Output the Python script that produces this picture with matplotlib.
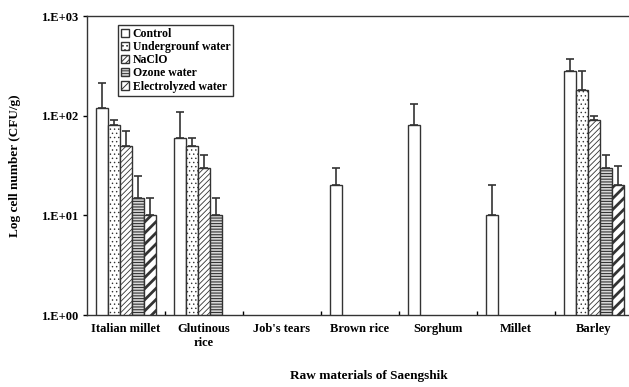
import numpy as np
import matplotlib.pyplot as plt

nan = np.nan

categories = ['Italian millet', 'Glutinous\nrice', "Job's tears", 'Brown rice',
              'Sorghum', 'Millet', 'Barley']
series = ['Control', 'Undergrounf water', 'NaClO', 'Ozone water', 'Electrolyzed water']

control         = [120, 60, nan, 20, 80, 10, 280]
control_err     = [95, 50, nan, 10, 50, 10, 92]
underground     = [80, 50, nan, nan, nan, nan, 180]
underground_err = [10, 10, nan, nan, nan, nan, 100]
naclo           = [50, 30, nan, nan, nan, nan, 90]
naclo_err       = [21, 10.5, nan, nan, nan, nan, 9]
ozone           = [15, 10, nan, nan, nan, nan, 30]
ozone_err       = [9.6, 4.8, nan, nan, nan, nan, 10.5]
electro         = [10, nan, nan, nan, nan, nan, 20]
electro_err     = [4.8, nan, nan, nan, nan, nan, 11]

values = [control, underground, naclo, ozone, electro]
errors = [control_err, underground_err, naclo_err, ozone_err, electro_err]

plt.rcParams['font.family'] = 'Liberation Serif'
plt.rcParams['font.weight'] = 'bold'
plt.rcParams['hatch.color'] = '#333333'
plt.rcParams['hatch.linewidth'] = 0.7

fig = plt.figure(figsize=(6.29, 3.87), dpi=100)
ax = fig.add_axes([0.1383, 0.186, 0.868, 0.7726])

hatches = ['', '....', '//////', '------', '///']
faces = ['white', 'white', 'white', '#d8d8d8', 'white']
hatch_lw = [0.7, 0.5, 0.6, 0.8, 2.0]
width = 0.154
x = np.arange(len(categories))

for i, (vals, errs) in enumerate(zip(values, errors)):
    pos = x + (i - 2) * width
    vals = np.array(vals, dtype=float)
    errs = np.array(errs, dtype=float)
    bars = ax.bar(pos, vals, width, color=faces[i], edgecolor='#333333',
                  linewidth=1, hatch=hatches[i], label=series[i])
    for b in bars:
        if hasattr(b, 'set_hatch_linewidth'):
            b.set_hatch_linewidth(hatch_lw[i])
    ok = ~np.isnan(vals)
    ax.errorbar(pos[ok], vals[ok], yerr=[np.zeros(ok.sum()), errs[ok]],
                fmt='none', ecolor='#333333', elinewidth=1.2, capsize=3,
                capthick=1.2)

ax.set_yscale('log')
ax.set_ylim(1, 1000)
ax.set_yticks([1, 10, 100, 1000])
ax.set_yticklabels(['1.E+00', '1.E+01', '1.E+02', '1.E+03'], fontsize=9,
                   fontweight='bold')
ax.yaxis.set_minor_locator(plt.NullLocator())
ax.tick_params(axis='y', direction='out', length=3, width=1)

ax.set_xlim(-0.5, len(categories) - 0.5)
ax.set_xticks(x)
ax.set_xticklabels(categories, fontsize=9, fontweight='bold')
ax.tick_params(axis='x', which='major', length=0, pad=6)
ax.set_xticks(x[:-1] + 0.5, minor=True)
ax.tick_params(axis='x', which='minor', direction='in', length=3, width=1)

for s in ['left', 'top', 'bottom']:
    ax.spines[s].set_linewidth(1)
    ax.spines[s].set_color('#333333')
ax.spines['right'].set_visible(False)

ax.set_ylabel('Log cell number (CFU/g)', fontsize=9.5, fontweight='bold', labelpad=14)
fig.text(369 / 629, 1 - 376 / 387, 'Raw materials of Saengshik', fontsize=9.5,
         fontweight='bold', ha='center', va='center')

leg = ax.legend(loc='upper left', bbox_to_anchor=(118 / 629, 1 - 25 / 387),
                bbox_transform=fig.transFigure, borderaxespad=0, fancybox=False,
                framealpha=1, edgecolor='#333333', fontsize=8.5,
                handlelength=0.7, handleheight=0.7, handletextpad=0.3,
                labelspacing=0.1, borderpad=0.25)
leg.get_frame().set_linewidth(1)

fig.savefig('out.png', dpi=100)
